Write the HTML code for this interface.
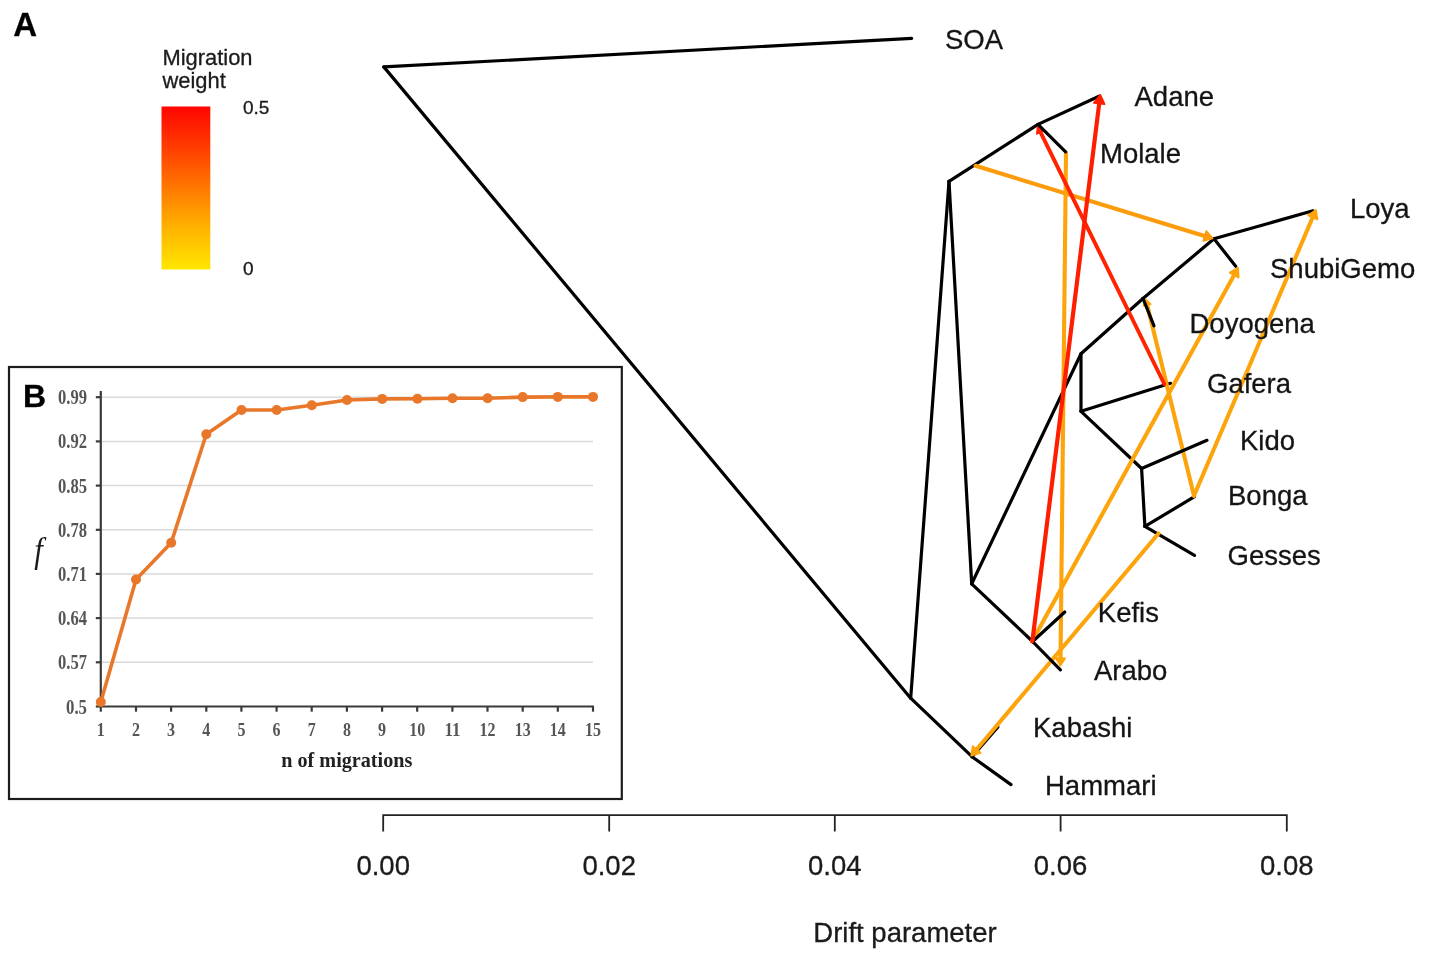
<!DOCTYPE html>
<html lang="en"><head><meta charset="utf-8"><title>TreeMix figure</title>
<style>
html,body{margin:0;padding:0;background:#fff;}
body{width:1429px;height:960px;overflow:hidden;}
svg{display:block;filter:blur(0.45px);}
text{stroke-width:0.3px;paint-order:stroke fill;}
.sans text,text.sans{stroke:#141414;}
.sans{font-family:"Liberation Sans",Arial,Helvetica,sans-serif;}
.serif{font-family:"Liberation Serif","Times New Roman",Times,serif;}
</style></head><body>
<svg width="1429" height="960" viewBox="0 0 1429 960">
<defs><linearGradient id="heat" x1="0" y1="0" x2="0" y2="1"><stop offset="0" stop-color="#ff0500"/><stop offset="0.25" stop-color="#ff3c00"/><stop offset="0.5" stop-color="#ff7800"/><stop offset="0.75" stop-color="#ffb400"/><stop offset="1" stop-color="#ffe600"/></linearGradient></defs>
<rect x="0" y="0" width="1429" height="960" fill="#ffffff"/>
<text class="sans" x="13.3" y="35.6" font-size="33" font-weight="700" fill="#000">A</text>
<g class="sans" fill="#1a1a1a">
<text x="162.5" y="64.8" font-size="21.9">Migration</text>
<text x="162.5" y="88.2" font-size="21.9">weight</text>
<text x="243" y="113.7" font-size="19">0.5</text>
<text x="243" y="275" font-size="19">0</text>
</g>
<rect x="161.5" y="106.5" width="48.8" height="163" fill="url(#heat)"/>
<g fill="none" stroke="#000" stroke-width="3.2" stroke-linecap="round" stroke-linejoin="round"><line x1="383.8" y1="66.9" x2="911.7" y2="38.4"/><line x1="383.8" y1="66.9" x2="910.7" y2="698.2"/><line x1="910.7" y1="698.2" x2="972.0" y2="756.7"/><line x1="972.0" y1="756.7" x2="1011.0" y2="784.6"/><line x1="972.0" y1="756.7" x2="997.9" y2="727.0"/><line x1="910.7" y1="698.2" x2="949.0" y2="181.4"/><line x1="949.0" y1="181.4" x2="1038.0" y2="124.4"/><line x1="1038.0" y1="124.4" x2="1099.0" y2="96.2"/><line x1="949.0" y1="181.4" x2="971.7" y2="583.8"/><line x1="971.7" y1="583.8" x2="1032.6" y2="641.5"/><line x1="971.7" y1="583.8" x2="1081.0" y2="353.8"/><line x1="1081.0" y1="353.8" x2="1143.0" y2="298.5"/><line x1="1143.0" y1="298.5" x2="1214.0" y2="238.8"/><line x1="1214.0" y1="238.8" x2="1313.0" y2="210.8"/><line x1="1214.0" y1="238.8" x2="1235.7" y2="266.2"/><line x1="1081.0" y1="353.8" x2="1081.0" y2="411.3"/><line x1="1081.0" y1="411.3" x2="1170.5" y2="383.3"/><line x1="1081.0" y1="411.3" x2="1141.6" y2="468.5"/><line x1="1141.6" y1="468.5" x2="1144.9" y2="526.4"/><line x1="1144.9" y1="526.4" x2="1194.5" y2="496.7"/><line x1="1144.9" y1="526.4" x2="1194.5" y2="555.4"/></g>
<g stroke="#fc9c0c" stroke-linecap="round" stroke-linejoin="round"><line x1="975.6" y1="165.8" x2="1208.6" y2="237.2" stroke-width="4.1"/><polygon fill="#fc9c0c" stroke-width="1.8" points="1206.3,231.1 1212.6,238.4 1203.3,240.9"/></g>
<g stroke="#fda40c" stroke-linecap="round" stroke-linejoin="round"><line x1="1066.0" y1="152.5" x2="1060.5" y2="661.9" stroke-width="4.1"/><polygon fill="#fda40c" stroke-width="1.8" points="1065.1,658.3 1060.4,665.6 1055.9,658.2"/></g>
<g stroke="#fda40c" stroke-linecap="round" stroke-linejoin="round"><line x1="1032.0" y1="641.5" x2="1236.1" y2="271.6" stroke-width="4.1"/><polygon fill="#fda40c" stroke-width="1.8" points="1229.7,272.6 1238.1,267.9 1238.6,277.5"/></g>
<g stroke="#fda40c" stroke-linecap="round" stroke-linejoin="round"><line x1="1194.0" y1="495.8" x2="1314.2" y2="213.8" stroke-width="4.1"/><polygon fill="#fda40c" stroke-width="1.8" points="1308.0,215.5 1315.9,209.9 1317.4,219.4"/></g>
<g stroke="#fda40c" stroke-linecap="round" stroke-linejoin="round"><line x1="1194.0" y1="495.8" x2="1146.5" y2="302.2" stroke-width="4.1"/><polygon fill="#fda40c" stroke-width="1.8" points="1143.6,305.8 1145.8,299.6 1150.7,304.1"/></g>
<g stroke="#fda40c" stroke-linecap="round" stroke-linejoin="round"><line x1="1158.5" y1="533.5" x2="974.1" y2="752.5" stroke-width="4.1"/><polygon fill="#fda40c" stroke-width="1.8" points="980.5,752.8 971.3,755.7 972.7,746.2"/></g>
<g stroke="#ff2300" stroke-linecap="round" stroke-linejoin="round"><line x1="1164.3" y1="384.0" x2="1039.1" y2="129.4" stroke-width="3.9"/><polygon fill="#ff2300" stroke-width="1.8" points="1036.9,133.8 1037.7,126.7 1043.9,130.4"/></g>
<g fill="none" stroke="#000" stroke-width="3.2" stroke-linecap="round" stroke-linejoin="round"><line x1="1038.0" y1="124.4" x2="1065.6" y2="151.9"/><line x1="1032.6" y1="641.5" x2="1064.8" y2="612.0"/><line x1="1032.6" y1="641.5" x2="1060.4" y2="669.9"/><line x1="1143.0" y1="298.5" x2="1154.0" y2="325.8"/><line x1="1141.6" y1="468.5" x2="1207.0" y2="440.3"/></g>
<g stroke="#ff1e00" stroke-linecap="round" stroke-linejoin="round"><line x1="1032.4" y1="641.0" x2="1099.7" y2="99.4" stroke-width="4.2"/><polygon fill="#ff1e00" stroke-width="1.8" points="1093.9,102.8 1100.3,94.9 1104.5,104.1"/></g>
<g class="sans" font-size="27.5" fill="#141414">
<text x="945.0" y="48.5">SOA</text>
<text x="1134.5" y="105.8">Adane</text>
<text x="1100.0" y="163.3">Molale</text>
<text x="1350.0" y="217.5">Loya</text>
<text x="1270.0" y="278.0">ShubiGemo</text>
<text x="1189.5" y="332.5">Doyogena</text>
<text x="1207.0" y="392.6">Gafera</text>
<text x="1240.0" y="450.4">Kido</text>
<text x="1228.0" y="505.4">Bonga</text>
<text x="1227.5" y="564.6">Gesses</text>
<text x="1097.8" y="622.4">Kefis</text>
<text x="1094.0" y="679.5">Arabo</text>
<text x="1033.0" y="736.5">Kabashi</text>
<text x="1045.0" y="794.5">Hammari</text>
</g>
<g fill="none" stroke="#222" stroke-width="1.8">
<path d="M383.2 831.5V815.2H1286.8V831.5"/>
<line x1="609.2" y1="815.2" x2="609.2" y2="831.5"/>
<line x1="834.8" y1="815.2" x2="834.8" y2="831.5"/>
<line x1="1060.6" y1="815.2" x2="1060.6" y2="831.5"/>
</g>
<g class="sans" font-size="27.5" fill="#1a1a1a" text-anchor="middle">
<text x="383.2" y="875.3">0.00</text>
<text x="609.2" y="875.3">0.02</text>
<text x="834.8" y="875.3">0.04</text>
<text x="1060.6" y="875.3">0.06</text>
<text x="1286.8" y="875.3">0.08</text>
<text x="905" y="941.5">Drift parameter</text>
</g>
<rect x="9" y="367" width="612.8" height="432" fill="#fff" stroke="#1c1c1c" stroke-width="2.2"/>
<text class="sans" x="23" y="407" font-size="32" font-weight="700" fill="#000">B</text>
<g stroke="#d9d9d9" stroke-width="1.5">
<line x1="100.8" y1="397.2" x2="593.0" y2="397.2"/>
<line x1="100.8" y1="441.4" x2="593.0" y2="441.4"/>
<line x1="100.8" y1="485.6" x2="593.0" y2="485.6"/>
<line x1="100.8" y1="529.8" x2="593.0" y2="529.8"/>
<line x1="100.8" y1="573.9" x2="593.0" y2="573.9"/>
<line x1="100.8" y1="618.1" x2="593.0" y2="618.1"/>
<line x1="100.8" y1="662.3" x2="593.0" y2="662.3"/>
</g>
<g stroke="#3a3a3a" stroke-width="2.2" fill="none">
<line x1="100.8" y1="391" x2="100.8" y2="707.5"/>
<line x1="99.8" y1="706.5" x2="594.0" y2="706.5"/>
<line x1="95.8" y1="397.2" x2="100.8" y2="397.2"/>
<line x1="95.8" y1="441.4" x2="100.8" y2="441.4"/>
<line x1="95.8" y1="485.6" x2="100.8" y2="485.6"/>
<line x1="95.8" y1="529.8" x2="100.8" y2="529.8"/>
<line x1="95.8" y1="573.9" x2="100.8" y2="573.9"/>
<line x1="95.8" y1="618.1" x2="100.8" y2="618.1"/>
<line x1="95.8" y1="662.3" x2="100.8" y2="662.3"/>
<line x1="95.8" y1="706.5" x2="100.8" y2="706.5"/>
<line x1="100.8" y1="706.5" x2="100.8" y2="711.7"/>
<line x1="136.0" y1="706.5" x2="136.0" y2="711.7"/>
<line x1="171.1" y1="706.5" x2="171.1" y2="711.7"/>
<line x1="206.3" y1="706.5" x2="206.3" y2="711.7"/>
<line x1="241.4" y1="706.5" x2="241.4" y2="711.7"/>
<line x1="276.6" y1="706.5" x2="276.6" y2="711.7"/>
<line x1="311.7" y1="706.5" x2="311.7" y2="711.7"/>
<line x1="346.9" y1="706.5" x2="346.9" y2="711.7"/>
<line x1="382.1" y1="706.5" x2="382.1" y2="711.7"/>
<line x1="417.2" y1="706.5" x2="417.2" y2="711.7"/>
<line x1="452.4" y1="706.5" x2="452.4" y2="711.7"/>
<line x1="487.5" y1="706.5" x2="487.5" y2="711.7"/>
<line x1="522.7" y1="706.5" x2="522.7" y2="711.7"/>
<line x1="557.8" y1="706.5" x2="557.8" y2="711.7"/>
<line x1="593.0" y1="706.5" x2="593.0" y2="711.7"/>
</g>
<g class="serif" font-size="20.5" font-weight="700" fill="#555" text-anchor="end">
<text x="87" y="404.2" textLength="29.0" lengthAdjust="spacingAndGlyphs">0.99</text>
<text x="87" y="448.4" textLength="29.0" lengthAdjust="spacingAndGlyphs">0.92</text>
<text x="87" y="492.6" textLength="29.0" lengthAdjust="spacingAndGlyphs">0.85</text>
<text x="87" y="536.8" textLength="29.0" lengthAdjust="spacingAndGlyphs">0.78</text>
<text x="87" y="580.9" textLength="29.0" lengthAdjust="spacingAndGlyphs">0.71</text>
<text x="87" y="625.1" textLength="29.0" lengthAdjust="spacingAndGlyphs">0.64</text>
<text x="87" y="669.3" textLength="29.0" lengthAdjust="spacingAndGlyphs">0.57</text>
<text x="87" y="713.5" textLength="21.0" lengthAdjust="spacingAndGlyphs">0.5</text>
</g>
<g class="serif" font-size="19.5" font-weight="700" fill="#555" text-anchor="middle">
<text x="100.8" y="736.3" textLength="8.0" lengthAdjust="spacingAndGlyphs">1</text>
<text x="136.0" y="736.3" textLength="8.0" lengthAdjust="spacingAndGlyphs">2</text>
<text x="171.1" y="736.3" textLength="8.0" lengthAdjust="spacingAndGlyphs">3</text>
<text x="206.3" y="736.3" textLength="8.0" lengthAdjust="spacingAndGlyphs">4</text>
<text x="241.4" y="736.3" textLength="8.0" lengthAdjust="spacingAndGlyphs">5</text>
<text x="276.6" y="736.3" textLength="8.0" lengthAdjust="spacingAndGlyphs">6</text>
<text x="311.7" y="736.3" textLength="8.0" lengthAdjust="spacingAndGlyphs">7</text>
<text x="346.9" y="736.3" textLength="8.0" lengthAdjust="spacingAndGlyphs">8</text>
<text x="382.1" y="736.3" textLength="8.0" lengthAdjust="spacingAndGlyphs">9</text>
<text x="417.2" y="736.3" textLength="16.0" lengthAdjust="spacingAndGlyphs">10</text>
<text x="452.4" y="736.3" textLength="16.0" lengthAdjust="spacingAndGlyphs">11</text>
<text x="487.5" y="736.3" textLength="16.0" lengthAdjust="spacingAndGlyphs">12</text>
<text x="522.7" y="736.3" textLength="16.0" lengthAdjust="spacingAndGlyphs">13</text>
<text x="557.8" y="736.3" textLength="16.0" lengthAdjust="spacingAndGlyphs">14</text>
<text x="593.0" y="736.3" textLength="16.0" lengthAdjust="spacingAndGlyphs">15</text>
</g>
<text class="serif" x="281.3" y="767.3" font-size="21.5" font-weight="700" fill="#222" textLength="131" lengthAdjust="spacingAndGlyphs">n of migrations</text>
<text class="serif" x="0" y="0" transform="translate(34.2 562) scale(0.86 1)" font-size="36" font-style="italic" fill="#1a1a1a">f</text>
<polyline fill="none" stroke="#e8772a" stroke-width="3.6" stroke-linejoin="round" stroke-linecap="round" points="100.8,702.0 136.0,579.5 171.2,542.8 206.3,434.3 241.5,410.0 276.7,410.0 311.8,405.2 347.0,400.0 382.2,398.9 417.4,398.7 452.5,398.2 487.6,398.2 522.7,397.1 557.8,396.9 593.0,396.9"/>
<g fill="#e8772a">
<circle cx="100.8" cy="702.0" r="5"/>
<circle cx="136.0" cy="579.5" r="5"/>
<circle cx="171.2" cy="542.8" r="5"/>
<circle cx="206.3" cy="434.3" r="5"/>
<circle cx="241.5" cy="410.0" r="5"/>
<circle cx="276.7" cy="410.0" r="5"/>
<circle cx="311.8" cy="405.2" r="5"/>
<circle cx="347.0" cy="400.0" r="5"/>
<circle cx="382.2" cy="398.9" r="5"/>
<circle cx="417.4" cy="398.7" r="5"/>
<circle cx="452.5" cy="398.2" r="5"/>
<circle cx="487.6" cy="398.2" r="5"/>
<circle cx="522.7" cy="397.1" r="5"/>
<circle cx="557.8" cy="396.9" r="5"/>
<circle cx="593.0" cy="396.9" r="5"/>
</g>
</svg></body></html>
